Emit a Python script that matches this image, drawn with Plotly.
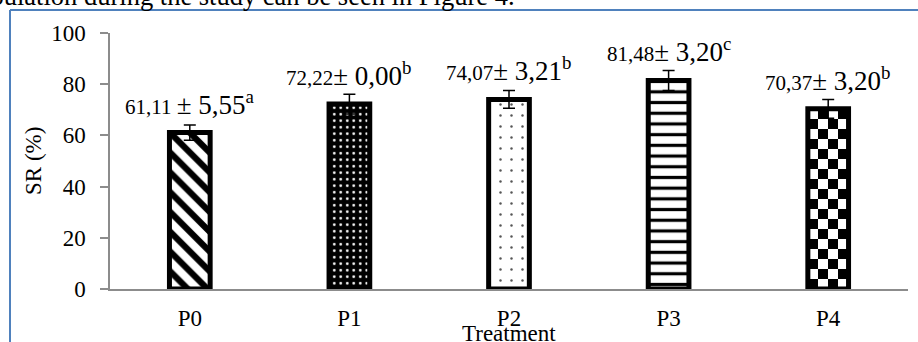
import base64
import plotly.graph_objects as go

# Survival rate per treatment (mean, %), SD and significance letters
treatments = ["P0", "P1", "P2", "P3", "P4"]
sr_mean = [61.11, 72.22, 74.07, 81.48, 70.37]
sr_sd_text = ["5,55", "0,00", "3,21", "3,20", "3,20"]
mean_text = ["61,11", "72,22", "74,07", "81,48", "70,37"]
letters = ["a", "b", "b", "c", "b"]
err_bar = [3.0, 3.9, 3.5, 3.9, 3.7]

y_ticks = [0, 20, 40, 60, 80, 100]

FONT = "Liberation Serif"
W, H = 918, 342
ML, MR, MT, MB = 110, 10, 33, 53
PW, PH = W - ML - MR, H - MT - MB
BAR_W = 0.255

xs = list(range(len(treatments)))


def px_x(px):
    return (px - ML) / PW


def px_y(py):
    return (H - MB - py) / PH


# fill patterns, one per treatment
patterns = [
    dict(shape="\\", fgcolor="black", bgcolor="white", size=14, solidity=0.45),
    dict(shape=".", fgcolor="white", bgcolor="black", size=6.5, solidity=0.14),
    dict(shape=".", fgcolor="#555555", bgcolor="white", size=11, solidity=0.04),
    dict(shape="-", fgcolor="black", bgcolor="white", size=10.7, solidity=0.3),
    None,  # checkerboard drawn as an image texture below the bar
]

fig = go.Figure()
for i, t in enumerate(treatments):
    pat = patterns[i]
    marker = dict(line=dict(color="black", width=5))
    if pat is None:
        marker["color"] = "rgba(0,0,0,0)"
    else:
        marker["color"] = pat["bgcolor"]
        marker["pattern"] = dict(
            shape=pat["shape"], fgcolor=pat["fgcolor"], bgcolor=pat["bgcolor"],
            size=pat["size"], solidity=pat["solidity"], fillmode="replace",
        )
    fig.add_trace(go.Bar(
        x=[xs[i]], y=[sr_mean[i]], width=BAR_W, marker=marker,
        error_y=dict(type="data", array=[err_bar[i]], color="black",
                     thickness=1.5, width=6),
        showlegend=False,
    ))

# checkerboard texture for the last treatment
cols, rows = 4, 18
rects = "".join(
    f'<rect x="{c}" y="{r}" width="1" height="1" fill="black"/>'
    for r in range(rows) for c in range(cols) if (r + c) % 2 == 1
)
svg = (f'<svg xmlns="http://www.w3.org/2000/svg" width="{cols*20}" height="{rows*20}" '
       f'viewBox="0 0 {cols} {rows}" preserveAspectRatio="none" shape-rendering="crispEdges">'
       f'<rect width="{cols}" height="{rows}" fill="white"/>{rects}</svg>')
src = "data:image/svg+xml;base64," + base64.b64encode(svg.encode()).decode()
ci = 4
fig.add_layout_image(dict(
    source=src, xref="x", yref="y", x=xs[ci] - BAR_W / 2, y=sr_mean[ci],
    sizex=BAR_W, sizey=sr_mean[ci], xanchor="left", yanchor="top",
    sizing="stretch", layer="below",
))

# value labels above each bar
for i in range(len(treatments)):
    small = mean_text[i] + (" " if i == 0 else "")
    txt = (f'<span style="font-size:21px">{small}</span>'
           f'± {sr_sd_text[i]}<sup>{letters[i]}</sup>')
    fig.add_annotation(x=xs[i], y=sr_mean[i], text=txt, showarrow=False,
                       xanchor="center", yanchor="bottom", yshift=11,
                       font=dict(family=FONT, size=27, color="black"))

# axis titles
fig.add_annotation(xref="paper", yref="paper", x=0.5, y=px_y(333), text="Treatment",
                   showarrow=False, xanchor="center", yanchor="middle",
                   font=dict(family=FONT, size=23, color="black"))
fig.add_annotation(xref="paper", yref="paper", x=px_x(33), y=0.5, text="SR (%)",
                   textangle=-90, showarrow=False, xanchor="center", yanchor="middle",
                   font=dict(family=FONT, size=23, color="black"))

# running text of the page above the figure
fig.add_annotation(xref="paper", yref="paper", x=px_x(517), y=px_y(12.7),
                   text="population during the study can be seen in Figure 4.",
                   showarrow=False, xanchor="right", yanchor="bottom",
                   font=dict(family=FONT, size=26.5, color="black"))

# blue frame of the page
frame = "#4F81BD"
fig.add_shape(type="line", xref="paper", yref="paper", x0=px_x(10), x1=px_x(918),
              y0=px_y(10), y1=px_y(10), line=dict(color=frame, width=2))
fig.add_shape(type="line", xref="paper", yref="paper", x0=px_x(10), x1=px_x(10),
              y0=px_y(10), y1=px_y(342), line=dict(color=frame, width=2))

fig.update_layout(
    width=W, height=H,
    margin=dict(l=ML, r=MR, t=MT, b=MB),
    paper_bgcolor="white", plot_bgcolor="rgba(0,0,0,0)",
    font=dict(family=FONT, size=23, color="black"),
    bargap=0.5,
)
fig.update_xaxes(
    range=[-0.5, len(treatments) - 0.5], tickvals=xs, ticktext=treatments,
    showline=True, linecolor="#8C8C8C", linewidth=1.5, ticks="",
    showgrid=False, zeroline=False, ticklabelstandoff=8,
    tickfont=dict(family=FONT, size=23, color="black"),
)
fig.update_yaxes(
    range=[0, 100], tickvals=y_ticks, showline=True, linecolor="#8C8C8C",
    linewidth=1.5, ticks="outside", ticklen=8, tickcolor="#8C8C8C", tickwidth=1.5,
    showgrid=False, zeroline=False, ticklabelstandoff=10,
    tickfont=dict(family=FONT, size=23, color="black"),
)

fig.write_html("out.html")
